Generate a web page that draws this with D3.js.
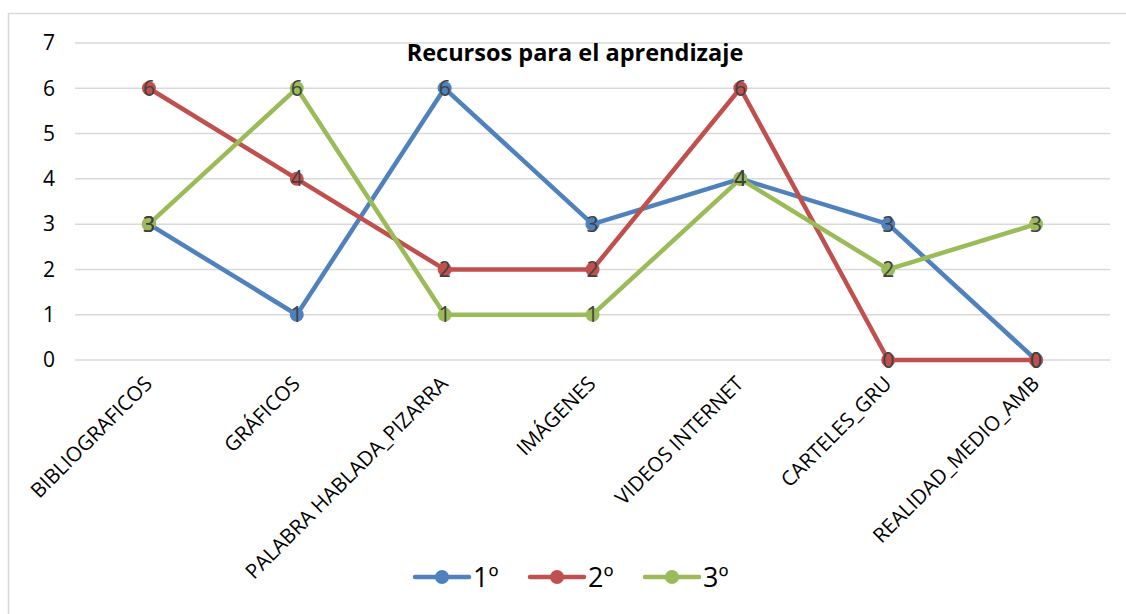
<!DOCTYPE html>
<html>
<head>
<meta charset="utf-8">
<script src="https://cdn.jsdelivr.net/npm/d3@7"></script>
<style>
  body { margin: 0; background: #fff; }
  text { font-family: "Open Sans", "Noto Sans", sans-serif; }
</style>
</head>
<body>
<script>

var categories = ["BIBLIOGRAFICOS", "GRÁFICOS", "PALABRA HABLADA_PIZARRA", "IMÁGENES", "VIDEOS INTERNET", "CARTELES_GRU", "REALIDAD_MEDIO_AMB"];
var serie1 = [3, 1, 6, 3, 4, 3, 0];   // 1º
var serie2 = [6, 4, 2, 2, 6, 0, 0];   // 2º
var serie3 = [3, 6, 1, 1, 4, 2, 3];   // 3º
var seriesNames = ["1º", "2º", "3º"];
var yTicks = [0, 1, 2, 3, 4, 5, 6, 7];

var colors = ["#4f81bd", "#c0504d", "#9bbb59"];
var allSeries = [serie1, serie2, serie3];

var W = 1126, H = 614;
var margin = {top: 43, left: 75}; // plot area inside the frame
var width = 1110 - margin.left;
var height = 360 - margin.top;

var svg = d3.select("body").append("svg")
    .attr("width", W)
    .attr("height", H);

// chart frame (runs off the right/bottom like the original)
svg.append("rect")
    .attr("x", 8.5).attr("y", 13.5)
    .attr("width", W).attr("height", H)
    .attr("fill", "none")
    .attr("stroke", "#d9d9d9")
    .attr("stroke-width", 1.5);

var g = svg.append("g")
    .attr("transform", "translate(" + margin.left + "," + margin.top + ")");

var xScale = d3.scalePoint().domain(categories).range([0, width]).padding(0.5);
var yScale = d3.scaleLinear().domain([0, 7]).range([height, 0]);

// gridlines
g.selectAll(".grid").data(yTicks).enter().append("line")
    .attr("class", "grid")
    .attr("x1", 0).attr("x2", width)
    .attr("y1", function(d) { return yScale(d); })
    .attr("y2", function(d) { return yScale(d); })
    .attr("stroke", "#d9d9d9")
    .attr("stroke-width", 1.5);

// y axis labels
var yAxis = d3.axisLeft(yScale).tickValues(yTicks).tickFormat(d3.format("d"))
    .tickSize(0).tickPadding(20);
g.append("g").attr("class", "y axis").call(yAxis)
    .call(function(a) { a.select(".domain").remove(); })
    .selectAll("text")
    .attr("font-size", 21)
    .attr("fill", "#000");

// x axis labels, rotated
var xAxis = d3.axisBottom(xScale).tickSize(0).tickPadding(0);
g.append("g").attr("class", "x axis")
    .attr("transform", "translate(0," + height + ")")
    .call(xAxis)
    .call(function(a) { a.select(".domain").remove(); })
    .selectAll("text")
    .attr("font-size", 20.5)
    .attr("fill", "#000")
    .attr("text-anchor", "end")
    .attr("dy", null)
    .attr("y", 0)
    .attr("transform", "translate(4,25) rotate(-45)");

// title
g.append("text")
    .attr("x", 575 - margin.left)
    .attr("y", 61 - margin.top)
    .attr("text-anchor", "middle")
    .attr("font-size", 23.5)
    .attr("font-weight", "bold")
    .attr("fill", "#000")
    .text("Recursos para el aprendizaje");

var line = d3.line()
    .x(function(d, i) { return xScale(categories[i]); })
    .y(function(d) { return yScale(d); });

allSeries.forEach(function(s, k) {
    var sg = g.append("g");
    sg.append("path")
        .datum(s)
        .attr("d", line)
        .attr("fill", "none")
        .attr("stroke", colors[k])
        .attr("stroke-width", 4.5)
        .attr("stroke-linejoin", "round");
    sg.selectAll("circle").data(s).enter().append("circle")
        .attr("cx", function(d, i) { return xScale(categories[i]); })
        .attr("cy", function(d) { return yScale(d); })
        .attr("r", 7)
        .attr("fill", colors[k]);
});

// data labels drawn last, on top of everything
allSeries.forEach(function(s, k) {
    g.append("g").selectAll("text").data(s).enter().append("text")
        .attr("x", function(d, i) { return xScale(categories[i]); })
        .attr("y", function(d) { return yScale(d); })
        .attr("dy", "0.36em")
        .attr("text-anchor", "middle")
        .attr("font-size", 21)
        .attr("fill", "#404040")
        .text(function(d) { return d; });
});

// legend
var legendX = [415, 530, 645];
var legend = svg.append("g");
seriesNames.forEach(function(name, k) {
    var lg = legend.append("g").attr("transform", "translate(" + legendX[k] + ",577)");
    lg.append("line")
        .attr("x1", 0).attr("x2", 54)
        .attr("stroke", colors[k])
        .attr("stroke-width", 4.5)
        .attr("stroke-linecap", "round");
    lg.append("circle").attr("cx", 27).attr("r", 7).attr("fill", colors[k]);
    lg.append("text")
        .attr("x", 58).attr("dy", "0.36em")
        .attr("font-size", 27)
        .attr("fill", "#000")
        .text(name);
});

</script>
</body>
</html>
